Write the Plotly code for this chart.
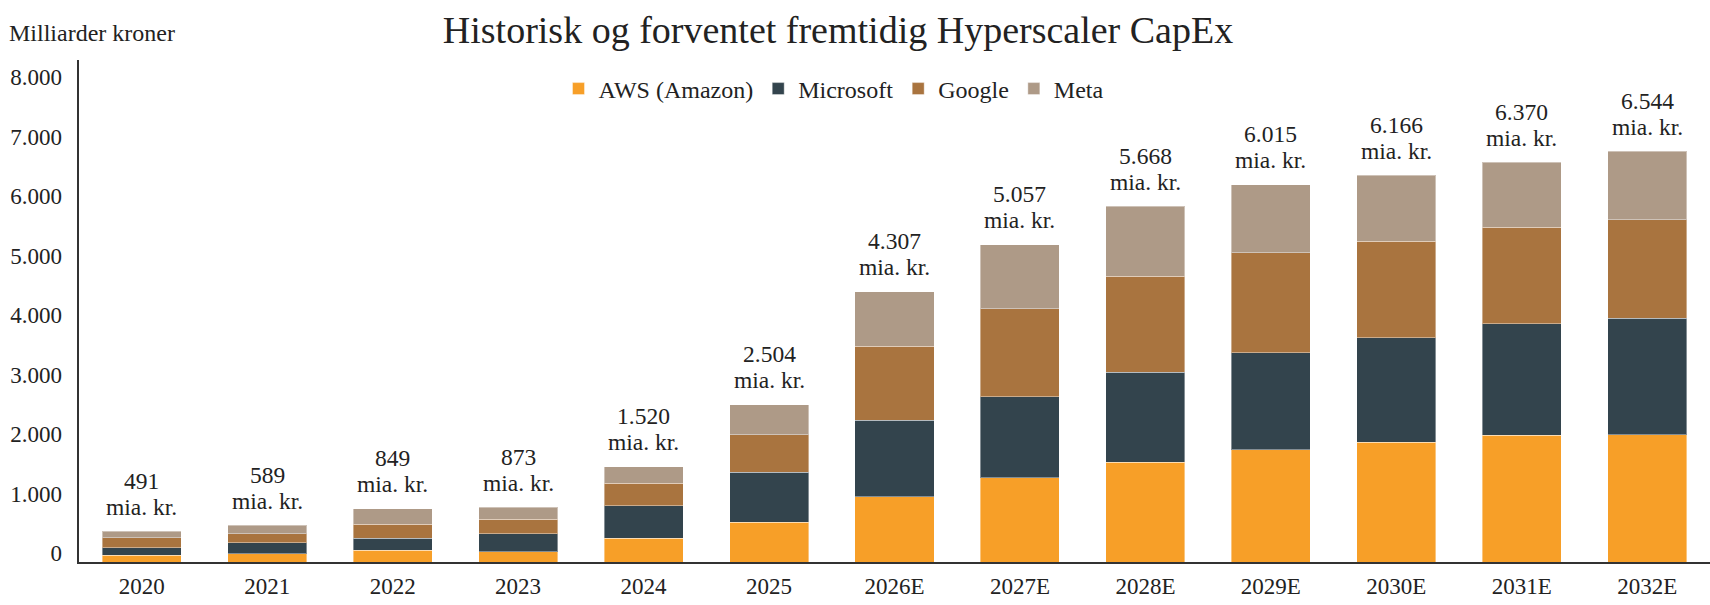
import plotly.graph_objects as go

categories = ["2020", "2021", "2022", "2023", "2024", "2025", "2026E",
              "2027E", "2028E", "2029E", "2030E", "2031E", "2032E"]
aws = [108, 131, 191, 161, 380, 633, 1041, 1340, 1592, 1791, 1905, 2017, 2027]
microsoft = [118, 176, 186, 290, 517, 797, 1222, 1297, 1433, 1547, 1671, 1777, 1858]
google = [157, 147, 223, 230, 357, 601, 1179, 1399, 1528, 1589, 1539, 1538, 1571]
meta = [108, 135, 249, 192, 266, 473, 865, 1021, 1115, 1088, 1051, 1038, 1088]
totals = [491, 589, 849, 873, 1520, 2504, 4307, 5057, 5668, 6015, 6166, 6370, 6544]
ytick_vals = [0, 1000, 2000, 3000, 4000, 5000, 6000, 7000, 8000]
ytick_text = ["0", "1.000", "2.000", "3.000", "4.000", "5.000", "6.000", "7.000", "8.000"]

FONT = "Liberation Serif"
TXT = "#222222"

series = [
    ("AWS (Amazon)", aws, "#F79F28"),
    ("Microsoft", microsoft, "#33444D"),
    ("Google", google, "#A9743F"),
    ("Meta", meta, "#AE9A87"),
]

fig = go.Figure()
for name, vals, col in series:
    fig.add_trace(go.Bar(
        x=categories, y=vals, name=name,
        marker=dict(color=col, line=dict(color="rgba(255,255,255,0.4)", width=1)),
    ))
# carrier trace for the label axis
fig.add_trace(go.Scatter(x=[categories[0]], y=[None], yaxis="y2",
                         showlegend=False, hoverinfo="skip", mode="markers"))

def fmt(v):
    return f"{v:,}".replace(",", ".")

annotations = []
for i, c in enumerate(categories):
    top = aws[i] + microsoft[i] + google[i] + meta[i]
    annotations.append(dict(x=i, y=top, xref="x", yref="y", text=fmt(totals[i]),
                            showarrow=False, yanchor="middle", yshift=50.5,
                            font=dict(family=FONT, size=23.5, color=TXT)))
    annotations.append(dict(x=i, y=top, xref="x", yref="y", text="mia. kr.",
                            showarrow=False, yanchor="middle", yshift=24.5,
                            font=dict(family=FONT, size=23.5, color=TXT)))
annotations.append(dict(x=-72 / 1631, y=(562 - 33) / 502, xref="paper", yref="paper",
                        text="Milliarder kroner", showarrow=False,
                        xanchor="left", yanchor="middle",
                        font=dict(family=FONT, size=24, color=TXT)))

fig.update_layout(
    width=1710, height=605,
    margin=dict(l=79, r=0, t=60, b=43),
    paper_bgcolor="white", plot_bgcolor="white",
    barmode="stack", bargap=0.37,
    font=dict(family=FONT, color=TXT),
    title=dict(text="Historisk og forventet fremtidig Hyperscaler CapEx",
               x=838 / 1710, xanchor="center", xref="container",
               y=1 - 30 / 605, yanchor="middle", yref="container",
               font=dict(family=FONT, size=38, color=TXT)),
    legend=dict(orientation="h", x=(834 - 79) / 1631, xanchor="center",
                y=(562 - 89) / 502, yanchor="middle",
                font=dict(family=FONT, size=24, color=TXT),
                itemwidth=30, traceorder="normal", bgcolor="rgba(0,0,0,0)"),
    xaxis=dict(type="category", range=[-0.5, 12.5], showline=True, linecolor="#333333",
               linewidth=2, showgrid=False, zeroline=False, ticks="",
               ticklabelstandoff=2,
               tickfont=dict(family=FONT, size=23, color=TXT)),
    yaxis=dict(range=[0, 8000], showline=True, linecolor="#333333", linewidth=2,
               showgrid=False, zeroline=False, showticklabels=False, ticks=""),
    yaxis2=dict(overlaying="y", side="left", range=[-151, 8286],
                tickvals=ytick_vals, ticktext=ytick_text,
                showline=False, showgrid=False, zeroline=False, ticks="",
                ticklabelstandoff=16,
                tickfont=dict(family=FONT, size=23, color=TXT)),
    annotations=annotations,
    showlegend=True,
)

fig.write_html("out.html")
